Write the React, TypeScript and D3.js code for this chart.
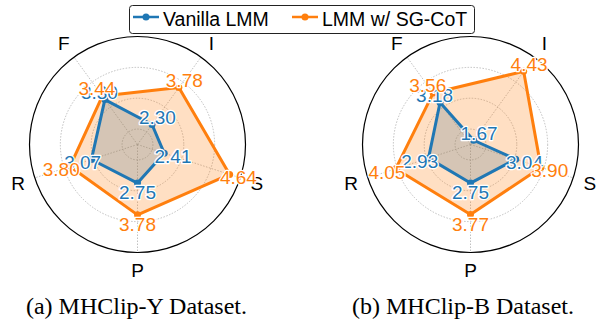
import React from 'react';
import * as d3 from 'd3';

const width = 596;
const height = 323;
const blue = '#1f77b4';
const orange = '#ff7f0e';

const axes = ['I', 'S', 'P', 'R', 'F'];
const gridTicks = [2, 3, 4, 5];
const seriesNames = ['Vanilla LMM', 'LMM w/ SG-CoT'];
const captions = ['(a) MHClip-Y Dataset.', '(b) MHClip-B Dataset.'];

// values per axis, in the order of `axes`
const vanillaY = [2.3, 2.41, 2.75, 3.07, 3.3];
const sgcotY = [3.78, 4.64, 3.78, 3.8, 3.44];
const vanillaB = [1.67, 3.04, 2.75, 2.93, 3.18];
const sgcotB = [4.43, 3.9, 3.77, 4.05, 3.56];

const panels = [
  { cx: 137.5, capX: 136.5, series: [vanillaY, sgcotY], caption: captions[0] },
  { cx: 470.5, capX: 463, series: [vanillaB, sgcotB], caption: captions[1] },
];
const cy = 144.5;
const R = 108;

const r = d3.scaleLinear().domain([1.5, 5]).range([0, R]);
const angle = d3
  .scaleLinear()
  .domain([0, axes.length])
  .range([Math.PI / 5, Math.PI / 5 + 2 * Math.PI]);

const pt = (i: number, v: number): [number, number] => {
  const a = angle(i);
  return [Math.sin(a) * r(v), -Math.cos(a) * r(v)];
};

const radial = d3
  .lineRadial<number>()
  .angle((d, i) => angle(i))
  .radius(d => r(d))
  .curve(d3.curveLinearClosed);

const colors = [blue, orange];
const font = '"Liberation Sans", Arial, sans-serif';

const Radar = ({ cx, capX, series, caption }: { cx: number; capX: number; series: number[][]; caption: string }) => (
  <g>
    <g transform={`translate(${cx},${cy})`}>
      {gridTicks.slice(0, -1).map(t => (
        <circle key={t} r={r(t)} fill="none" stroke="#b0b0b0" strokeWidth={0.8} strokeDasharray="1.5,1.5" />
      ))}
      {axes.map((a, i) => {
        const [x, y] = pt(i, 5);
        return <line key={a} x1={0} y1={0} x2={x} y2={y} stroke="#b0b0b0" strokeWidth={0.8} strokeDasharray="1.5,1.5" />;
      })}
      <circle r={R} fill="none" stroke="#000" strokeWidth={1.2} />
      {axes.map((a, i) => {
        const ang = angle(i);
        const rl = R + 17.5;
        return (
          <text key={a} x={Math.sin(ang) * rl} y={-Math.cos(ang) * rl} dy="0.36em" textAnchor="middle" fontFamily={font} fontSize={19}>
            {a}
          </text>
        );
      })}
      {series.map((s, k) => (
        <path key={'f' + k} d={radial(s) || ''} fill={colors[k]} fillOpacity={0.25} stroke="none" />
      ))}
      {series.map((s, k) => (
        <g key={'l' + k}>
          <path d={radial(s) || ''} fill="none" stroke={colors[k]} strokeWidth={3} strokeLinejoin="round" />
          {s.map((v, i) => {
            const [x, y] = pt(i, v);
            return <circle key={i} cx={x} cy={y} r={3.5} fill={colors[k]} />;
          })}
        </g>
      ))}
      {series.map((s, k) => (
        <g key={'t' + k}>
          {s.map((v, i) => {
            const [x, y] = pt(i, v + 0.3);
            return (
              <text
                key={i}
                x={x}
                y={y}
                dy="0.36em"
                textAnchor="middle"
                fontFamily={font}
                fontSize={19}
                fill={colors[k]}
                stroke="#fff"
                strokeWidth={2.5}
                paintOrder="stroke"
                strokeLinejoin="round"
              >
                {v.toFixed(2)}
              </text>
            );
          })}
        </g>
      ))}
    </g>
    <text x={capX} y={314} textAnchor="middle" fontFamily='"Liberation Serif", "Times New Roman", serif' fontSize={24}>
      {caption}
    </text>
  </g>
);

const legendX = [133, 292];

export default function App() {
  return (
    <svg width={width} height={height} style={{ position: 'absolute', left: 0, top: 0, background: '#fff' }}>
      {panels.map((p, i) => (
        <Radar key={i} {...p} />
      ))}
      <rect x={129.5} y={5.5} width={345} height={28} rx={3} fill="#fff" stroke="#222" strokeWidth={1} />
      {seriesNames.map((n, i) => (
        <g key={n}>
          <line x1={legendX[i]} x2={legendX[i] + 26} y1={17} y2={17} stroke={colors[i]} strokeWidth={2.5} />
          <circle cx={legendX[i] + 13} cy={17} r={3.5} fill={colors[i]} />
          <text x={legendX[i] + 30} y={25.5} fontFamily={font} fontSize={19.5}>
            {n}
          </text>
        </g>
      ))}
    </svg>
  );
}
